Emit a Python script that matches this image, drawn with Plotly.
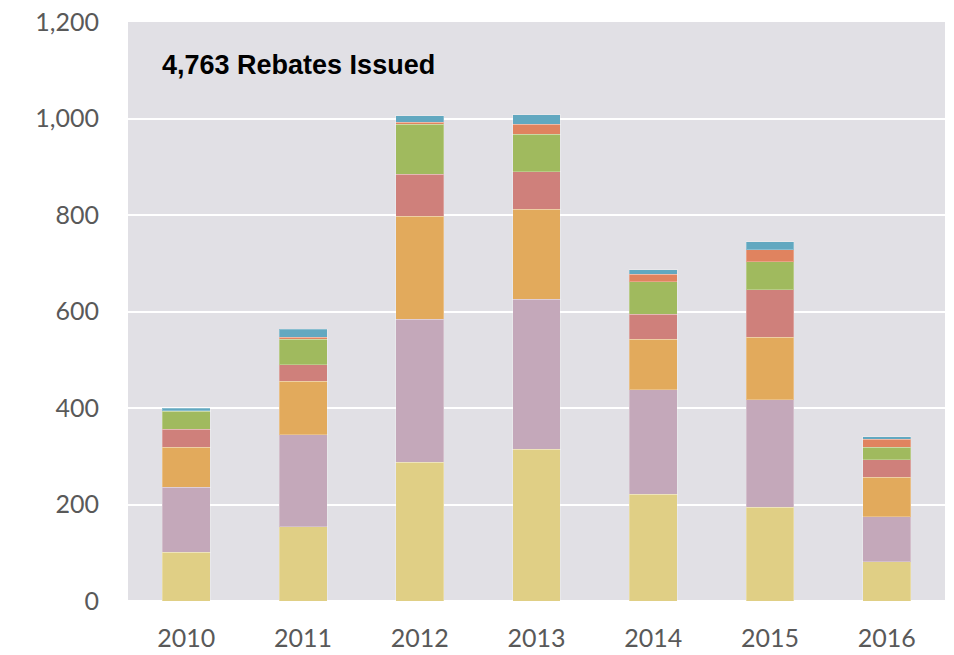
import plotly.graph_objects as go

years = ["2010", "2011", "2012", "2013", "2014", "2015", "2016"]
yellow = [101, 154, 288, 315, 221, 194, 81]
purple = [135, 191, 296, 310, 217, 223, 94]
orange = [83, 110, 213, 187, 104, 130, 82]
red = [37, 35, 87, 78, 52, 98, 36]
green = [37, 52, 104, 77, 68, 58, 26]
salmon = [1, 5, 4, 21, 15, 25, 16]
blue = [5, 16, 14, 20, 10, 17, 5]

series = [
    ("A", yellow, "#E0CF85"),
    ("B", purple, "#C4A8BA"),
    ("C", orange, "#E2AA5C"),
    ("D", red, "#CF807B"),
    ("E", green, "#A0BA5E"),
    ("F", salmon, "#E0835F"),
    ("G", blue, "#62A8C0"),
]

fig = go.Figure()
for name, vals, col in series:
    fig.add_trace(go.Bar(
        x=years, y=vals, name=name,
        marker=dict(color=col, line=dict(color="rgba(255,255,255,0.25)", width=1)),
        width=0.41,
    ))

fig.update_layout(
    barmode="stack",
    width=946, height=647,
    margin=dict(l=120, r=9, t=14, b=54, autoexpand=False),
    paper_bgcolor="white",
    plot_bgcolor="#E1E0E5",
    showlegend=False,
    font=dict(family="Lato, Liberation Sans, sans-serif", color="#595959", size=25),
    xaxis=dict(
        range=[-0.5, 6.5], showgrid=False, zeroline=False, automargin=False,
        tickfont=dict(size=25, color="#595959"), ticks="", ticklabelstandoff=20,
        showline=False, ticklabeloverflow="allow",
    ),
    yaxis=dict(
        range=[0, 1200], dtick=200, tickformat=",", showgrid=True, automargin=False,
        gridcolor="white", gridwidth=2, zeroline=True, zerolinecolor="white",
        zerolinewidth=2, tickfont=dict(size=25, color="#595959"),
        ticks="", ticklabelstandoff=28, ticklabeloverflow="allow",
    ),
    annotations=[dict(
        text="<b>4,763 Rebates Issued</b>", x=0.039, y=0.926,
        xref="paper", yref="paper", xanchor="left", yanchor="middle",
        showarrow=False,
        font=dict(family="Liberation Sans, Arial, sans-serif", size=27, color="black"),
    )],
)

fig.write_html("out.html")
